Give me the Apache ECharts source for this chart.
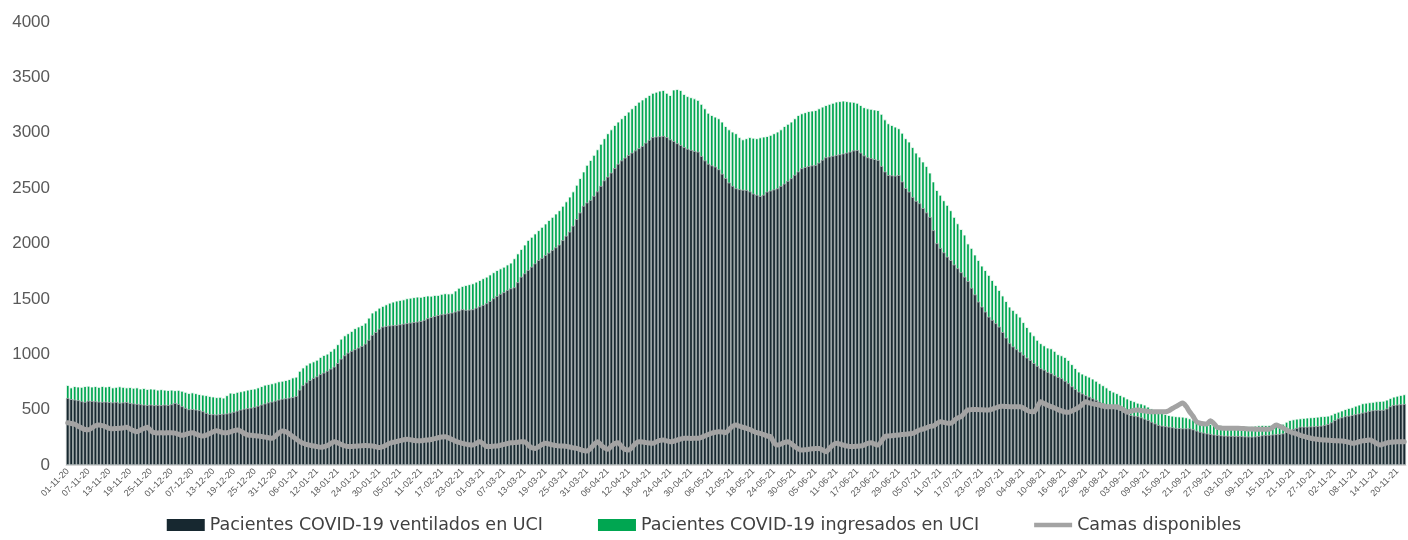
<!DOCTYPE html>
<html>
<head>
<meta charset="utf-8">
<script src="https://cdn.jsdelivr.net/npm/echarts@6/dist/echarts.min.js"></script>
<style>
  html, body { margin: 0; padding: 0; background: #fff; }
  #chart { width: 1408px; height: 540px; }
</style>
</head>
<body>
<div id="chart"></div>
<script>
// serie diaria desde el 01-11-2020
var fechaInicio = [2020, 11, 1];

var ingresados = [
  722, 700, 712, 708, 705, 712, 715, 708, 712, 705,
  713, 708, 713, 700, 705, 710, 705, 700, 703, 697,
  700, 690, 695, 686, 690, 688, 680, 684, 680, 677,
  680, 675, 678, 670, 660, 650, 655, 648, 640, 635,
  630, 623, 618, 612, 615, 608, 630, 653, 650, 660,
  665, 672, 680, 686, 690, 700, 712, 725, 730, 737,
  745, 755, 760, 767, 775, 790, 797, 850, 880, 905,
  924, 935, 950, 975, 993, 1005, 1030, 1053, 1090, 1140,
  1170, 1189, 1210, 1235, 1250, 1264, 1285, 1330, 1376, 1395,
  1420, 1436, 1450, 1465, 1475, 1484, 1490, 1495, 1505, 1510,
  1515, 1520, 1518, 1525, 1530, 1528, 1535, 1535, 1545, 1550,
  1548, 1550, 1575, 1600, 1616, 1625, 1632, 1640, 1655, 1670,
  1686, 1700, 1720, 1740, 1760, 1775, 1790, 1810, 1827, 1866,
  1910, 1950, 1990, 2032, 2060, 2090, 2120, 2150, 2180, 2212,
  2240, 2270, 2300, 2340, 2380, 2423, 2470, 2530, 2590, 2650,
  2710, 2754, 2800, 2850, 2900, 2950, 2995, 3030, 3070, 3100,
  3130, 3160, 3190, 3220, 3250, 3280, 3300, 3320, 3341, 3360,
  3370, 3380, 3386, 3360, 3340, 3390, 3395, 3386, 3350, 3330,
  3320, 3310, 3296, 3260, 3220, 3180, 3160, 3145, 3130, 3100,
  3060, 3030, 3010, 2995, 2960, 2940, 2950, 2960, 2955, 2950,
  2958, 2965, 2970, 2980, 2995, 3010, 3030, 3060, 3080, 3100,
  3130, 3160, 3175, 3185, 3195, 3200, 3205, 3220, 3235, 3250,
  3260, 3270, 3281, 3285, 3290, 3285, 3281, 3278, 3270, 3250,
  3230, 3220, 3215, 3210, 3205, 3170, 3120, 3085, 3070, 3055,
  3040, 3000, 2950, 2920, 2870, 2820, 2784, 2740, 2700, 2640,
  2560, 2483, 2440, 2390, 2348, 2300, 2240, 2182, 2130, 2080,
  2000, 1960, 1900, 1851, 1800, 1760, 1716, 1670, 1625, 1580,
  1530, 1480, 1430, 1400, 1370, 1339, 1290, 1245, 1204, 1170,
  1130, 1099, 1080, 1060, 1053, 1030, 1000, 990, 975, 948,
  910, 875, 843, 825, 810, 797, 780, 760, 738, 720,
  700, 677, 662, 648, 632, 618, 600, 587, 575, 562,
  555, 545, 527, 510, 495, 481, 470, 460, 451, 445,
  440, 438, 436, 430, 421, 410, 400, 390, 382, 375,
  370, 365, 361, 358, 356, 355, 356, 352, 355, 350,
  352, 350, 352, 355, 358, 361, 360, 361, 365, 364,
  367, 372, 390, 406, 412, 418, 421, 425, 428, 430,
  433, 436, 440, 442, 445, 455, 470, 481, 492, 505,
  515, 521, 535, 545, 557, 562, 566, 570, 575, 578,
  580, 590, 605, 617, 625, 632, 638
];

var ventilados = [
  605, 595, 590, 585, 575, 570, 580, 578, 575, 572,
  570, 572, 568, 565, 570, 562, 565, 568, 560, 555,
  552, 548, 545, 541, 545, 540, 542, 540, 545, 542,
  548, 560, 550, 530, 515, 503, 505, 500, 495, 485,
  470, 460, 458, 455, 460, 462, 465, 472, 480, 490,
  500, 508, 512, 518, 525, 535, 545, 555, 565, 572,
  580, 590, 598, 602, 608, 612, 623, 680, 720, 745,
  767, 785, 800, 820, 834, 850, 870, 888, 920, 960,
  990, 1014, 1030, 1045, 1060, 1075, 1095, 1130, 1174, 1200,
  1230, 1249, 1255, 1260, 1262, 1264, 1270, 1275, 1280, 1285,
  1290, 1294, 1300, 1310, 1325, 1335, 1345, 1354, 1360, 1365,
  1370, 1376, 1385, 1395, 1406, 1400, 1402, 1406, 1420, 1432,
  1445, 1460, 1480, 1505, 1526, 1545, 1560, 1580, 1595, 1604,
  1650, 1700, 1730, 1761, 1790, 1820, 1850, 1870, 1895, 1917,
  1940, 1965, 1990, 2030, 2070, 2107, 2160, 2220, 2280, 2340,
  2370, 2393, 2430, 2470, 2520, 2570, 2603, 2640, 2680, 2720,
  2750, 2775, 2799, 2820, 2840, 2860, 2880, 2910, 2935, 2960,
  2965, 2968, 2971, 2960, 2940, 2925, 2905, 2889, 2870, 2855,
  2845, 2835, 2829, 2790, 2750, 2720, 2705, 2694, 2670, 2630,
  2590, 2550, 2520, 2498, 2490, 2485, 2483, 2470, 2450, 2440,
  2429, 2440, 2468, 2478, 2488, 2498, 2520, 2540, 2565, 2589,
  2620, 2650, 2679, 2690, 2700, 2705, 2709, 2730, 2755, 2778,
  2785, 2792, 2799, 2805, 2812, 2820, 2829, 2840, 2844, 2820,
  2795, 2778, 2770, 2762, 2754, 2700, 2650, 2618, 2615, 2612,
  2618, 2560, 2500, 2468, 2420, 2385, 2363, 2320, 2280, 2240,
  2120, 2002, 1960, 1920, 1881, 1850, 1810, 1776, 1740, 1700,
  1660, 1600, 1540, 1475, 1430, 1385, 1339, 1310, 1280, 1249,
  1200, 1150, 1099, 1070, 1045, 1023, 995, 970, 948, 920,
  895, 873, 860, 840, 828, 810, 795, 783, 760, 738,
  710, 685, 662, 645, 630, 617, 602, 588, 572, 558,
  540, 527, 517, 507, 497, 480, 465, 451, 445, 440,
  430, 418, 406, 390, 375, 361, 355, 350, 346, 340,
  335, 333, 331, 331, 331, 322, 310, 300, 292, 285,
  280, 275, 271, 268, 265, 264, 263, 262, 262, 260,
  258, 257, 256, 258, 262, 268, 271, 272, 275, 278,
  280, 285, 300, 316, 325, 335, 346, 346, 346, 348,
  350, 352, 355, 361, 370, 385, 405, 421, 430, 440,
  445, 451, 458, 465, 472, 480, 488, 494, 497, 497,
  497, 510, 530, 542, 545, 548, 551
];

var camas = [
  382, 375, 368, 350, 335, 320, 318, 335, 355, 361,
  355, 345, 331, 328, 330, 331, 335, 340, 325, 310,
  301, 315, 330, 340, 310, 292, 290, 292, 290, 292,
  292, 288, 278, 268, 275, 285, 292, 280, 268, 262,
  270, 285, 300, 310, 300, 292, 292, 300, 310, 316,
  305, 285, 271, 268, 265, 262, 258, 252, 246, 241,
  260, 290, 307, 300, 280, 256, 235, 210, 196, 185,
  178, 172, 166, 160, 165, 175, 195, 211, 200, 185,
  172, 166, 168, 170, 172, 174, 175, 173, 172, 165,
  157, 165, 180, 196, 205, 212, 220, 228, 232, 228,
  222, 219, 220, 224, 226, 230, 238, 246, 252, 256,
  245, 230, 215, 205, 196, 188, 182, 180, 195, 211,
  190, 166, 168, 170, 172, 178, 186, 194, 200, 202,
  206, 211, 208, 180, 155, 150, 165, 185, 196, 190,
  182, 176, 172, 172, 168, 162, 155, 150, 140, 130,
  126, 150, 185, 211, 180, 155, 142, 170, 195, 202,
  165, 140, 135, 160, 195, 211, 208, 202, 198, 196,
  210, 222, 226, 218, 211, 215, 225, 235, 241, 241,
  240, 241, 241, 250, 262, 275, 288, 296, 301, 298,
  292, 320, 350, 361, 350, 340, 331, 320, 305, 292,
  286, 275, 262, 256, 200, 180, 190, 205, 211, 190,
  165, 145, 135, 138, 142, 146, 148, 150, 135, 120,
  150, 180, 196, 190, 180, 172, 166, 168, 170, 172,
  180, 195, 202, 190, 180, 215, 256, 262, 265, 268,
  271, 275, 278, 282, 286, 300, 316, 325, 335, 348,
  352, 375, 391, 385, 378, 376, 400, 425, 436, 470,
  497, 500, 502, 500, 498, 497, 497, 505, 515, 527,
  530, 528, 527, 526, 527, 527, 515, 495, 482, 481,
  520, 572, 555, 540, 527, 515, 500, 488, 478, 476,
  488, 503, 520, 545, 572, 560, 552, 548, 540, 532,
  527, 527, 527, 527, 515, 498, 478, 485, 495, 497,
  492, 488, 484, 481, 481, 480, 481, 481, 490, 510,
  527, 545, 560, 530, 481, 440, 391, 378, 372, 370,
  400, 375, 340, 335, 332, 331, 331, 331, 331, 330,
  328, 326, 325, 323, 322, 322, 322, 322, 340, 361,
  350, 335, 316, 300, 290, 280, 268, 258, 250, 241,
  236, 232, 228, 226, 224, 222, 220, 218, 216, 212,
  205, 196, 200, 210, 218, 222, 226, 215, 195, 181,
  190, 200, 205, 208, 210, 211, 211
];

var ticksY = [0, 4000, 500];

function dosCifras(n) { return (n < 10 ? '0' : '') + n; }

var fechas = [];
var d0 = new Date(Date.UTC(fechaInicio[0], fechaInicio[1] - 1, fechaInicio[2]));
for (var i = 0; i < ventilados.length; i++) {
  var d = new Date(d0.getTime() + i * 86400000);
  fechas.push(dosCifras(d.getUTCDate()) + '-' + dosCifras(d.getUTCMonth() + 1) + '-' + String(d.getUTCFullYear()).slice(2));
}

var nombres = [
  'Pacientes COVID-19 ventilados en UCI',
  'Pacientes COVID-19 ingresados en UCI',
  'Camas disponibles'
];

var myChart = echarts.init(document.getElementById('chart'));
var option = {
  animation: false,
  textStyle: { fontFamily: 'Liberation Sans, Arial, sans-serif' },
  grid: { left: 66, right: 2, top: 22, bottom: 75 },
  legend: {
    data: [
      { name: nombres[0], icon: 'rect' },
      { name: nombres[1], icon: 'rect' },
      { name: nombres[2], icon: 'path://M0,0L38,0L38,4.5L0,4.5Z' }
    ],
    bottom: 1,
    left: 'center',
    itemWidth: 38,
    itemHeight: 12,
    itemGap: 55,
    itemStyle: { borderWidth: 0 },
    textStyle: { fontSize: 17.5, color: '#404040', fontFamily: 'DejaVu Sans' }
  },
  xAxis: {
    type: 'category',
    data: fechas,
    boundaryGap: true,
    axisLine: { lineStyle: { color: '#d9d9d9', width: 1 } },
    axisTick: { interval: 5, length: 4, lineStyle: { color: '#d9d9d9' } },
    axisLabel: { interval: 5, rotate: 45, fontSize: 9, color: '#595959', margin: 5 }
  },
  yAxis: {
    type: 'value',
    min: ticksY[0],
    max: ticksY[1],
    interval: ticksY[2],
    splitLine: { show: false },
    axisLine: { show: false },
    axisTick: { show: false },
    axisLabel: {
      fontSize: 17, color: '#595959', margin: 16,
      formatter: function (v) { return String(v); }
    }
  },
  series: [
    {
      name: nombres[1],
      type: 'bar',
      data: ingresados,
      barGap: '-100%',
      barCategoryGap: '0%',
      itemStyle: { color: '#00a651', borderColor: '#ffffff', borderWidth: 0.8 }
    },
    {
      name: nombres[0],
      type: 'bar',
      data: ventilados,
      barGap: '-100%',
      barCategoryGap: '0%',
      itemStyle: { color: '#172830', borderColor: '#a4a9ac', borderWidth: 0.8 }
    },
    {
      name: nombres[2],
      type: 'line',
      data: camas,
      smooth: 0.3,
      showSymbol: false,
      symbol: 'none',
      z: 5,
      lineStyle: { color: '#a3a3a3', width: 5, cap: 'round', join: 'round' },
      itemStyle: { color: '#a3a3a3' }
    }
  ]
};
myChart.setOption(option);
</script>
</body>
</html>
